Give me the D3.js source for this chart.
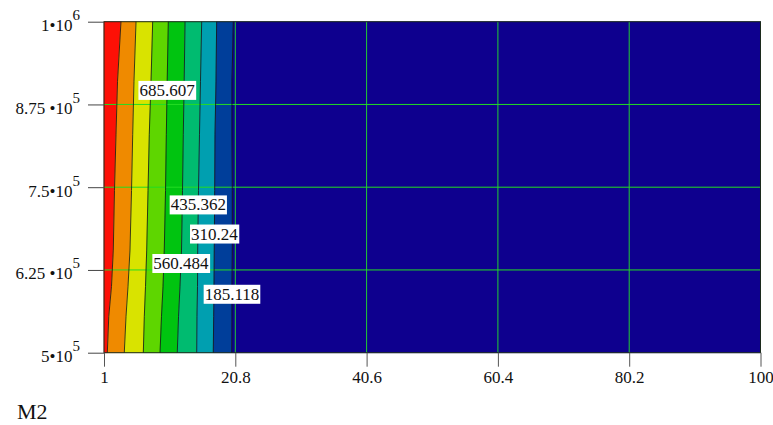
<!DOCTYPE html>
<html>
<head>
<script src="https://d3js.org/d3.v7.min.js"></script>
<style>
  body { margin: 0; background: #fff; }
</style>
</head>
<body>
<script>
// y rows (values) at which contour crossings were read
var rowsY = [1e6, 9.1e5, 8.3e5, 7.45e5, 6.55e5, 6e5, 5.55e5, 5e5];

// contour levels, from high (left) to low (right)
var levels = [1060.97, 935.85, 810.73, 685.607, 560.484, 435.362, 310.24, 185.118];

// M2 position of each contour line at every row of rowsY
var contourM2 = [
  [3.56, 3.04, 2.81, 2.58, 2.40, 2.13, 1.72, 1.50],
  [5.83, 5.52, 5.33, 5.15, 4.92, 4.62, 4.32, 4.06],
  [8.34, 8.09, 7.83, 7.64, 7.44, 7.26, 7.08, 6.93],
  [10.70, 10.53, 10.40, 10.28, 10.09, 9.90, 9.67, 9.45],
  [13.22, 13.09, 12.96, 12.84, 12.69, 12.46, 12.24, 12.05],
  [15.73, 15.55, 15.40, 15.25, 15.13, 15.10, 15.02, 14.98],
  [17.99, 17.89, 17.74, 17.69, 17.63, 17.59, 17.54, 17.48],
  [20.50, 20.30, 20.30, 20.35, 20.35, 20.30, 20.30, 20.26]
];

var bandColors = ["#fd1006", "#ef8a00", "#d9e300", "#5ed600", "#00c410",
                  "#00bb70", "#009fb0", "#003e9a", "#0e008e"];

// labelled contours and the y value where each label sits
var labelLevels = [685.607, 435.362, 310.24, 560.484, 185.118];
var labelY = [8.97e5, 7.24e5, 6.80e5, 6.355e5, 5.89e5];

var xTicks = [1, 20.8, 40.6, 60.4, 80.2, 100];
var yTicks = [5e5, 6.25e5, 7.5e5, 8.75e5, 1e6];
var yMantissa = ["5", "6.25 ", "7.5", "8.75 ", "1"];
var yExp = ["5", "5", "5", "5", "6"];

var width = 773, height = 425;
var plotL = 104, plotR = 760.5, plotT = 21.7, plotB = 352.7;
var serif = "Liberation Serif";

var svg = d3.select("body").append("svg")
    .attr("width", width)
    .attr("height", height);

var x = d3.scaleLinear().domain([1, 100]).range([plotL, plotR]);
var y = d3.scaleLinear().domain([5e5, 1e6]).range([plotB, plotT]);

// edges: left border, each contour, right border
var edges = [rowsY.map(function() { return 1; })]
    .concat(contourM2)
    .concat([rowsY.map(function() { return 100; })]);

var area = d3.area()
    .y(function(d) { return y(d.y); })
    .x0(function(d) { return x(d.a); })
    .x1(function(d) { return x(d.b); });

bandColors.forEach(function(c, i) {
  var pts = rowsY.map(function(v, j) {
    return { y: v, a: edges[i][j], b: edges[i + 1][j] };
  });
  svg.append("path")
     .attr("d", area(pts))
     .attr("fill", c)
     .attr("stroke", c)
     .attr("stroke-width", 0.5);
});

// grid
svg.append("g").selectAll("line")
   .data(xTicks.slice(1, -1))
   .enter().append("line")
   .attr("x1", function(d) { return x(d); })
   .attr("x2", function(d) { return x(d); })
   .attr("y1", plotT).attr("y2", plotB)
   .attr("stroke", "#22cc33").attr("stroke-width", 1);

svg.append("g").selectAll("line")
   .data(yTicks.slice(1, -1))
   .enter().append("line")
   .attr("y1", function(d) { return y(d); })
   .attr("y2", function(d) { return y(d); })
   .attr("x1", plotL).attr("x2", plotR)
   .attr("stroke", "#22dd22").attr("stroke-width", 1);

// contour lines
var line = d3.line()
    .x(function(d) { return x(d[0]); })
    .y(function(d) { return y(d[1]); });

contourM2.forEach(function(row) {
  svg.append("path")
     .attr("d", line(row.map(function(m, j) { return [m, rowsY[j]]; })))
     .attr("fill", "none")
     .attr("stroke", "#111")
     .attr("stroke-opacity", 0.8)
     .attr("stroke-width", 1);
});

// plot frame
svg.append("rect")
   .attr("x", plotL).attr("y", plotT)
   .attr("width", plotR - plotL).attr("height", plotB - plotT)
   .attr("fill", "none").attr("stroke", "#1c2a1c").attr("stroke-width", 1);

// contour labels
labelLevels.forEach(function(lv, i) {
  var k = levels.indexOf(lv);
  // interpolate M2 of that contour at label y
  var yv = labelY[i], m = contourM2[k][0];
  for (var j = 0; j < rowsY.length - 1; j++) {
    if (yv <= rowsY[j] && yv >= rowsY[j + 1]) {
      var t = (rowsY[j] - yv) / (rowsY[j] - rowsY[j + 1]);
      m = contourM2[k][j] + t * (contourM2[k][j + 1] - contourM2[k][j]);
    }
  }
  var g = svg.append("g");
  var txt = g.append("text")
      .attr("x", x(m)).attr("y", y(yv) + 6)
      .attr("text-anchor", "middle")
      .attr("font-family", serif)
      .attr("font-size", 17)
      .attr("fill", "#111")
      .text(String(lv));
  var bb = txt.node().getBBox();
  g.insert("rect", "text")
   .attr("x", bb.x - 1).attr("y", bb.y)
   .attr("width", bb.width + 2).attr("height", bb.height)
   .attr("fill", "#fff");
});

// axes
var xAxis = svg.append("g")
    .attr("transform", "translate(0," + plotB + ")")
    .call(d3.axisBottom(x).tickValues(xTicks).tickSize(14)
          .tickFormat(function(d) { return String(d); }));
xAxis.select(".domain").remove();
xAxis.attr("font-family", serif).attr("font-size", 17);
xAxis.selectAll(".tick line").attr("stroke", "#555");
xAxis.selectAll(".tick text").attr("y", 18).attr("fill", "#111");

var yAxis = svg.append("g")
    .attr("transform", "translate(" + plotL + ",0)")
    .call(d3.axisLeft(y).tickValues(yTicks).tickSize(16).tickFormat(""));
yAxis.select(".domain").remove();
yAxis.selectAll(".tick line").attr("stroke", "#444");
yAxis.selectAll(".tick text").remove();

yTicks.forEach(function(v, i) {
  var t = svg.append("text")
      .attr("x", plotL - 24)
      .attr("y", y(v) + 9.5)
      .attr("text-anchor", "end")
      .attr("font-family", serif)
      .attr("font-size", 17)
      .attr("fill", "#111");
  t.append("tspan").text(yMantissa[i] + "\u202210");
  t.append("tspan").attr("dy", -11).attr("font-size", 15).text(yExp[i]);
});

svg.append("text")
   .attr("x", 17).attr("y", 419)
   .attr("font-family", serif)
   .attr("font-size", 22)
   .attr("fill", "#111")
   .text("M2");
</script>
</body>
</html>
